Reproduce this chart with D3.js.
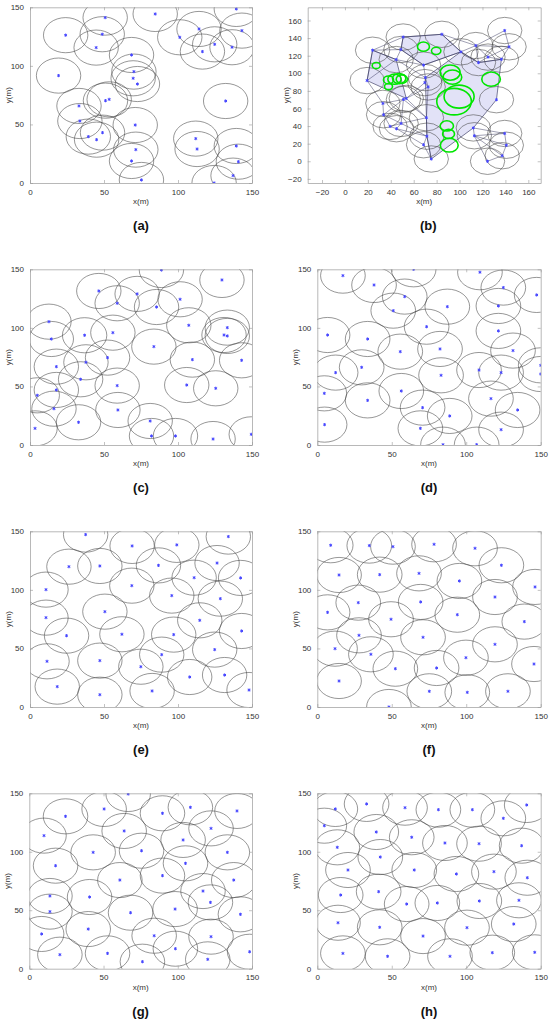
<!DOCTYPE html>
<html>
<head>
<meta charset="utf-8">
<script src="https://cdn.jsdelivr.net/npm/d3@7"></script>
<style>
  body { margin: 0; background: #fff; }
  text { font-family: "Liberation Sans", Arial, sans-serif; }
  .tick text { font-size: 8px; fill: #333; }
  .domain { stroke: #999; stroke-width: 0.7px; }
  .tick line { stroke: #999; stroke-width: 0.6px; }
  .sensor { fill: none; stroke: #444; stroke-width: 0.7px; stroke-opacity: 0.8; }
  .node { fill: #5a5aff; stroke: #4646ff; stroke-width: 1px; }
  .hull { fill: #dfdff6; fill-opacity: 0.9; stroke: #2a2a55; stroke-width: 0.6px; }
  .edge { stroke: #2a2a55; stroke-width: 0.6px; stroke-opacity: 0.75; }
  .hole { fill: none; stroke: #00e600; stroke-width: 1.6px; }
</style>
</head>
<body>
<svg id="fig" width="550" height="1022"></svg>
<script>
var R = 15;  // sensing radius (m)

// node positions (x, y) in metres
var nodesA = [[24.1,126.2],[50.8,141.2],[84.6,144.3],[139.4,148.6],[143.2,130.1],[114.2,131.5],
  [101.2,124.4],[48.8,127],[44.7,115.6],[116.5,112.2],[124.8,118.4],[136.5,115.9],[19.3,91.7],
  [68.6,109.3],[70.2,95.1],[69.7,89.4],[72.6,84.5],[33.1,65.8],[51,70.3],[53.5,71.4],[132.2,70],
  [71.1,49.5],[33.7,52.9],[49,43],[45,37],[39.4,39.6],[112,37.9],[112.9,29],[71.5,28.5],
  [68.6,18.8],[75.3,2.6],[139.4,31.6],[140.8,18.2],[137.2,6.3],[124.4,0]];

var nodesC = [[88.8,149.4],[129.7,140.9],[46.5,131.5],[72.4,129],[101.4,124.4],[58.9,121],
  [85.5,117.8],[12.8,105.3],[107.3,102.2],[133.3,100.2],[131.1,93.9],[133.3,93.1],[14.4,90.5],
  [36.9,93.7],[56,95.9],[83.7,84],[52.4,74.6],[109.7,72.9],[143,72.3],[17.8,66.9],[37.8,70.6],
  [34.2,56.1],[58.9,50.7],[105.9,51.2],[125.5,48.4],[4.9,42.4],[17.8,47],[16.2,31],[59.4,29.9],
  [32.8,19.4],[81.2,20.5],[3.4,14.2],[82.1,7.7],[98.3,7.7],[123.7,5.1],[149.5,9.1]];

var nodesD = [[17.2,144.6],[38.1,136.6],[64.7,150],[109.2,147.5],[124.9,134.4],[147.3,128.1],
  [58.7,126.7],[87.3,118.1],[51,114.7],[121.6,118.7],[6.9,93.9],[33.8,90.5],[73.4,101],
  [121.6,97.4],[55.7,79.7],[82.4,82],[131.4,80.6],[12.3,61.8],[29.8,66.3],[83.1,59.5],
  [108.6,64],[123.4,61.8],[150,68],[150,60.6],[4.7,44.1],[56.4,46.1],[33.8,38.1],[70.7,31.9],
  [88.9,24.8],[116.6,39.6],[134.5,29.9],[69.2,14.2],[123.4,13.1],[4.9,17.4],[84.4,0.3],[107,0.3]];

var nodesE = [[37.6,147.2],[69,137.5],[99.2,138.4],[134,145.5],[26.3,119.8],[47.2,120.4],
  [86.8,120.9],[126.4,122.9],[110.9,110.4],[142.3,110.2],[10.8,100.2],[68.8,103.6],[95.8,95.1],
  [128.6,92.5],[10.8,76.3],[50.6,81.4],[114.7,74],[24.7,60.9],[62.1,62.1],[97.1,61.8],
  [143,64.9],[124.8,49],[89,44.7],[11.5,39],[47.2,39.6],[74.9,34.4],[107.9,25.6],[131.5,27.3],
  [18.4,17.4],[82.5,13.7],[47.2,10.5],[148,14.5]];

var nodesF = [[9,138.1],[34.9,137.8],[50.8,136.9],[78.4,138.9],[105.9,135.5],[123.6,121],
  [14.6,112.7],[41.9,113],[68.3,114.1],[95.4,107.6],[146.2,102.5],[119.3,93.9],[27.5,89.1],
  [69.4,89.7],[6.9,80.8],[49.5,74.9],[94,78.8],[139,72.9],[28,61.2],[71,59.5],[119.3,53.5],
  [11.9,49.8],[36,45],[99.8,42.1],[80.1,33.3],[52.4,32.7],[145.5,36.7],[14.6,22.2],[75.2,13.4],
  [100.7,12.5],[128,13.4],[48.1,0]];

var nodesG = [[66.6,149.4],[50.4,136.6],[89.7,132.9],[108.5,138],[139.9,134.9],[24.4,130.3],
  [122.4,120],[9.9,113.8],[63.9,117.8],[103.6,110.1],[43,99.5],[75.6,100.9],[133.4,99.5],
  [105.2,90.1],[17.7,88.1],[89.7,79.6],[61,75.8],[137.7,75.8],[13.9,62.2],[40.6,61.3],
  [117,66.4],[122,56.7],[13.9,48.8],[68.2,47.9],[98.2,51],[142.2,46.5],[39.7,33.9],[8.3,29.7],
  [84.1,28.2],[122.4,27.4],[98.4,17.1],[20.6,12],[52.7,13.1],[76.2,6],[120.2,8],[148.4,14.5]];

var nodesH = [[12.1,136.6],[33.1,140.9],[58.9,137.7],[81.3,136],[104.1,136],[124.9,128.6],
  [140.6,140],[4.7,122.3],[39.6,116.9],[63.4,112.4],[85.7,107.5],[108.6,106.9],[137.2,105.2],
  [13.4,103.8],[42.3,95.5],[20.6,84.4],[65.1,84.4],[93.4,81],[118.6,83],[141,77.8],[15.7,63],
  [41.2,65.9],[60,55.3],[80.6,56.2],[108.8,57.9],[135.4,58.5],[13.9,39.3],[41.9,35.4],[71,27.9],
  [100.5,35.1],[131.9,38.2],[17.2,13.1],[47.2,10.6],[89.1,10.6],[117.5,13.7],[146,14]];

// panel (b): covered regions, coverage holes (x, y, r)
var regionsB = [
  [[19.3,91.7],[24.1,126.2],[44.7,115.6],[53.5,71.4]],
  [[48.8,127],[50.8,141.2],[84.6,144.3],[101.2,124.4],[68.6,109.3]],
  [[70.2,95.1],[101.2,124.4],[116.5,112.2],[136.5,115.9],[132.2,70],[112,37.9],[75.3,2.6],[71.5,28.5],[71.1,49.5]]
];
var holesB = [[68.5,130.3,5.2],[79.6,125.5,4.1],[27.3,108.8,3.5],[38,92.5,4.4],[43.2,93.3,5.8],
  [47.3,94,5.8],[49.6,93.3,4.9],[38,84.9,3.5],[91.8,100.8,8.7],[93.8,95.6,8.1],[127.5,93.3,8.1],
  [99.6,73.5,13.1],[95.2,67.8,15.1],[88.9,40.2,5.8],[90.4,31.1,5.2],[91,18.3,7.8]];

var ticks150 = [0, 50, 100, 150];
var ticksB = [-20, 0, 20, 40, 60, 80, 100, 120, 140, 160];

var panels = [
  {tag: "(a)", nodes: nodesA, box: [30, 252, 7.3, 183], xd: [0, 150], yd: [0, 150], ticks: ticks150},
  {tag: "(b)", nodes: nodesA, box: [307.7, 540.7, 7.3, 183], xd: [-32.5, 170.8], yd: [-24.7, 175], ticks: ticksB, net: true},
  {tag: "(c)", nodes: nodesC, box: [30, 252, 269.3, 445], xd: [0, 150], yd: [0, 150], ticks: ticks150},
  {tag: "(d)", nodes: nodesD, box: [317.3, 540.7, 269.3, 445], xd: [0, 150], yd: [0, 150], ticks: ticks150},
  {tag: "(e)", nodes: nodesE, box: [30, 252, 531.3, 707], xd: [0, 150], yd: [0, 150], ticks: ticks150},
  {tag: "(f)", nodes: nodesF, box: [317.3, 540.7, 531.3, 707], xd: [0, 150], yd: [0, 150], ticks: ticks150},
  {tag: "(g)", nodes: nodesG, box: [29.3, 252, 793.3, 968.7], xd: [0, 150], yd: [0, 150], ticks: ticks150},
  {tag: "(h)", nodes: nodesH, box: [317.3, 540.7, 793.3, 968.7], xd: [0, 150], yd: [0, 150], ticks: ticks150}
];

var svg = d3.select("#fig");
var asterisk = d3.symbol().type(d3.symbolAsterisk).size(7);

panels.forEach(function(p, i) {
  var x = d3.scaleLinear().domain(p.xd).range([p.box[0], p.box[1]]);
  var y = d3.scaleLinear().domain(p.yd).range([p.box[3], p.box[2]]);
  var rx = function(r) { return x(r) - x(0); };
  var ry = function(r) { return y(0) - y(r); };

  svg.append("clipPath").attr("id", "clip" + i)
    .append("rect")
    .attr("x", p.box[0]).attr("y", p.box[2])
    .attr("width", p.box[1] - p.box[0]).attr("height", p.box[3] - p.box[2]);

  var g = svg.append("g").attr("clip-path", "url(#clip" + i + ")");

  if (p.net) {
    g.selectAll("path.hull").data(regionsB).enter().append("path")
      .attr("class", "hull")
      .attr("d", function(d) { return "M" + d.map(function(q) { return x(q[0]) + "," + y(q[1]); }).join("L") + "Z"; });

    // links between neighbouring nodes
    var del = d3.Delaunay.from(p.nodes);
    var seen = {}, edges = [];
    for (var t = 0; t < del.triangles.length; t += 3) {
      for (var k = 0; k < 3; k++) {
        var a = del.triangles[t + k], b = del.triangles[t + (k + 1) % 3];
        var key = Math.min(a, b) + "-" + Math.max(a, b);
        if (seen[key]) continue;
        seen[key] = true;
        var pa = p.nodes[a], pb = p.nodes[b];
        if (Math.hypot(pa[0] - pb[0], pa[1] - pb[1]) < 36) edges.push([pa, pb]);
      }
    }
    g.selectAll("line.edge").data(edges).enter().append("line")
      .attr("class", "edge")
      .attr("x1", function(d) { return x(d[0][0]); })
      .attr("y1", function(d) { return y(d[0][1]); })
      .attr("x2", function(d) { return x(d[1][0]); })
      .attr("y2", function(d) { return y(d[1][1]); });
  }

  g.selectAll("ellipse.sensor").data(p.nodes).enter().append("ellipse")
    .attr("class", "sensor")
    .attr("cx", function(d) { return x(d[0]); })
    .attr("cy", function(d) { return y(d[1]); })
    .attr("rx", rx(R))
    .attr("ry", ry(R));

  if (p.net) {
    g.selectAll("ellipse.hole").data(holesB).enter().append("ellipse")
      .attr("class", "hole")
      .attr("cx", function(d) { return x(d[0]); })
      .attr("cy", function(d) { return y(d[1]); })
      .attr("rx", function(d) { return rx(d[2]); })
      .attr("ry", function(d) { return ry(d[2]); });
  }

  g.selectAll("path.node").data(p.nodes).enter().append("path")
    .attr("class", "node")
    .attr("d", asterisk)
    .attr("transform", function(d) { return "translate(" + x(d[0]) + "," + y(d[1]) + ")"; });

  // axes, ticks pointing inward like MATLAB
  svg.append("g").attr("transform", "translate(0," + p.box[3] + ")")
    .call(d3.axisBottom(x).tickValues(p.ticks).tickSize(-3).tickPadding(6).tickSizeOuter(0));
  svg.append("g").attr("transform", "translate(" + p.box[0] + ",0)")
    .call(d3.axisLeft(y).tickValues(p.ticks).tickSize(-3).tickPadding(6).tickSizeOuter(0));
  svg.append("g").attr("transform", "translate(0," + p.box[2] + ")")
    .call(d3.axisTop(x).tickValues(p.ticks).tickSize(-3).tickFormat("").tickSizeOuter(0));
  svg.append("g").attr("transform", "translate(" + p.box[1] + ",0)")
    .call(d3.axisRight(y).tickValues(p.ticks).tickSize(-3).tickFormat("").tickSizeOuter(0));

  var cx = (p.box[0] + p.box[1]) / 2, cy = (p.box[2] + p.box[3]) / 2;
  svg.append("text").attr("x", cx).attr("y", p.box[3] + 21)
    .attr("text-anchor", "middle").attr("font-size", 8).attr("fill", "#333").text("x(m)");
  svg.append("text")
    .attr("transform", "translate(" + (p.box[0] - 19) + "," + cy + ") rotate(-90)")
    .attr("text-anchor", "middle").attr("font-size", 8).attr("fill", "#333").text("y(m)");
  svg.append("text").attr("x", cx + (p.net ? 4 : 0)).attr("y", p.box[3] + 47)
    .attr("text-anchor", "middle").attr("font-size", 13).attr("font-weight", "bold")
    .attr("font-family", "'Liberation Serif', serif").attr("fill", "#111").text(p.tag);
});
</script>
</body>
</html>
